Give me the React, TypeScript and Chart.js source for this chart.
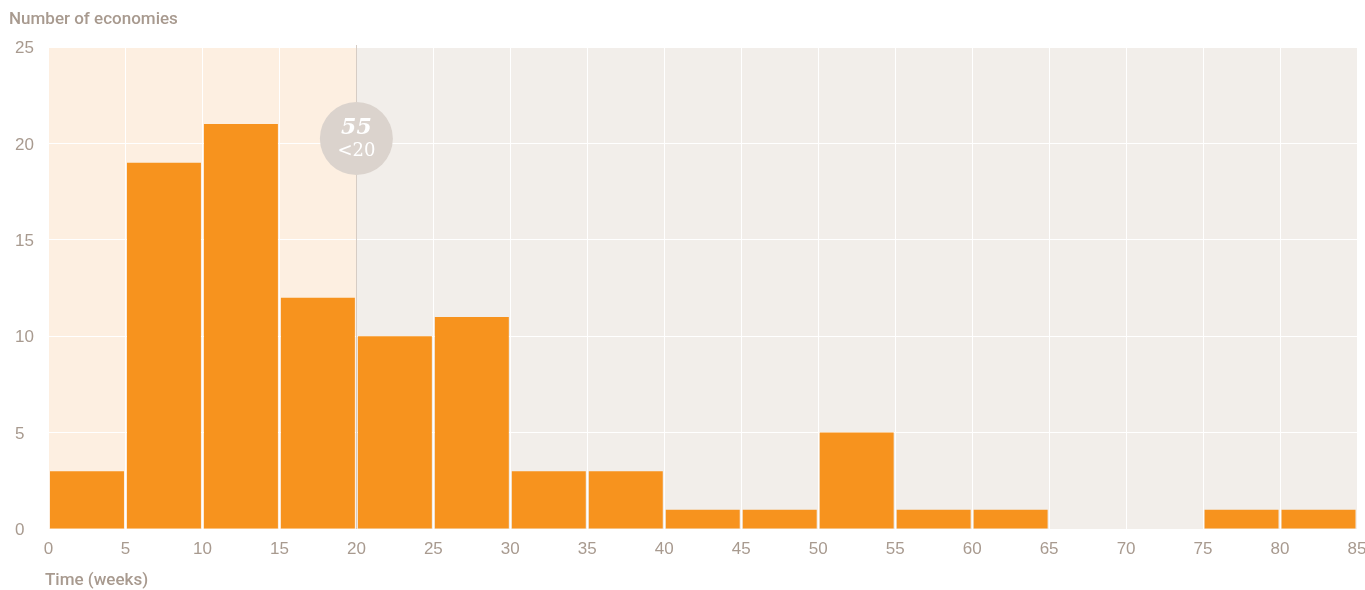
import React, { useEffect, useRef } from "react";
import { Chart, registerables } from "chart.js";

Chart.register(...registerables);

const BIN_STARTS = [0, 5, 10, 15, 20, 25, 30, 35, 40, 45, 50, 55, 60, 65, 70, 75, 80];
const BIN_WIDTH = 5;
const COUNTS = [3, 19, 21, 12, 10, 11, 3, 3, 1, 1, 5, 1, 1, 0, 0, 1, 1];
const THRESHOLD = 20;
const ANNOTATION_COUNT = "55";
const ANNOTATION_LABEL = "<20";
const ANNOTATION_Y = 20.25;
const Y_TITLE = "Number of economies";
const X_TITLE = "Time (weeks)";

const TEXT = "#a89a8f";
const FONT = "'Liberation Sans', Arial, sans-serif";

export default function App() {
  const ref = useRef<HTMLCanvasElement>(null);
  useEffect(() => {
    const bgPlugin = {
      id: "bg",
      beforeDraw(chart: any) {
        const { ctx, chartArea: a, scales } = chart;
        const xs = scales.x;
        const xt = xs.getPixelForValue(THRESHOLD);
        ctx.save();
        ctx.fillStyle = "#fdefe1";
        ctx.fillRect(a.left, a.top, xt - a.left, a.bottom - a.top);
        ctx.fillStyle = "#f2eeea";
        ctx.fillRect(xt, a.top, a.right - xt, a.bottom - a.top);
        ctx.restore();
      },
      beforeDatasetsDraw(chart: any) {
        const { ctx, chartArea: a, scales } = chart;
        const xt = Math.round(scales.x.getPixelForValue(THRESHOLD)) + 0.5;
        ctx.save();
        ctx.strokeStyle = "#d6ccc4";
        ctx.lineWidth = 1;
        ctx.beginPath();
        ctx.moveTo(xt, a.top - 2);
        ctx.lineTo(xt, a.bottom);
        ctx.stroke();
        ctx.restore();
      },
      afterDatasetsDraw(chart: any) {
        const { ctx, scales } = chart;
        const cx = scales.x.getPixelForValue(THRESHOLD);
        const cy = scales.y.getPixelForValue(ANNOTATION_Y);
        ctx.save();
        ctx.fillStyle = "#dbd3cd";
        ctx.beginPath();
        ctx.arc(cx, cy, 36.5, 0, Math.PI * 2);
        ctx.fill();
        ctx.fillStyle = "#ffffff";
        ctx.textAlign = "center";
        ctx.textBaseline = "middle";
        ctx.font = "italic bold 22px 'DejaVu Serif', 'Liberation Serif', serif";
        ctx.fillText(ANNOTATION_COUNT, cx, cy - 10);
        ctx.font = "18px 'DejaVu Serif', 'Liberation Serif', serif";
        ctx.fillText(ANNOTATION_LABEL, cx, cy + 13);
        ctx.restore();
      },
      afterDraw(chart: any) {
        const { ctx } = chart;
        ctx.save();
        ctx.fillStyle = TEXT;
        ctx.font = "500 17px Roboto, " + FONT;
        ctx.textAlign = "left";
        ctx.textBaseline = "middle";
        ctx.fillText(Y_TITLE, 9, 20);
        ctx.fillText(X_TITLE, 45, 581);
        ctx.restore();
      },
    };

    const chart = new Chart(ref.current!, {
      type: "bar",
      data: {
        datasets: [
          {
            data: BIN_STARTS.map((s, i) => ({ x: s + BIN_WIDTH / 2, y: COUNTS[i] })),
            backgroundColor: "#f7931e",
            borderWidth: 0,
            barPercentage: 0.961,
            categoryPercentage: 1,
          },
        ],
      },
      options: {
        animation: false,
        responsive: false,
        maintainAspectRatio: false,
        layout: { padding: { left: 15, right: 8, top: 47, bottom: 0 } },
        plugins: { legend: { display: false }, tooltip: { enabled: false }, title: { display: false } },
        scales: {
          x: {
            type: "linear",
            offset: false,
            min: 0,
            max: 85,
            grid: { color: "#ffffff", lineWidth: 1, drawTicks: false, offset: false },
            border: { display: false },
            ticks: {
              stepSize: 5,
              color: TEXT,
              font: { family: FONT, size: 17 },
              padding: 10,
              maxRotation: 0,
              autoSkip: false,
            },
            afterFit: (s: any) => {
              s.height = 61;
              s.paddingLeft = 0;
              s.paddingRight = 0;
            },
          },
          y: {
            min: 0,
            max: 25,
            grid: { color: "#ffffff", lineWidth: 1, drawTicks: false },
            border: { display: false },
            ticks: {
              stepSize: 5,
              color: TEXT,
              font: { family: FONT, size: 17 },
              crossAlign: "far",
              padding: 0,
              labelOffset: 1.5,
            },
            afterFit: (s: any) => {
              s.width = 33.5;
              s.paddingTop = 0;
              s.paddingBottom = 0;
            },
          },
        },
      },
      plugins: [bgPlugin],
    });
    return () => chart.destroy();
  }, []);

  return (
    <div style={{ position: "fixed", left: 0, top: 0, width: 1365, height: 590, background: "#fff" }}>
      <canvas ref={ref} width={1365} height={590} style={{ width: 1365, height: 590, display: "block" }} />
    </div>
  );
}
